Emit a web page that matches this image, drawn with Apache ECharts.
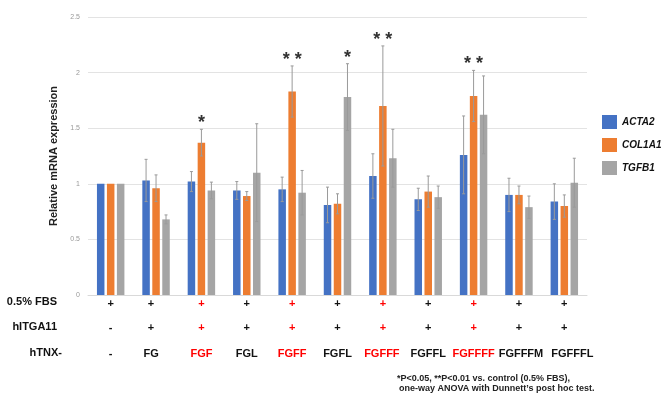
<!DOCTYPE html>
<html><head><meta charset="utf-8">
<script src="https://cdn.jsdelivr.net/npm/echarts@6/dist/echarts.min.js"></script>
<style>html,body{margin:0;padding:0;background:#fff}#c{width:664px;height:394px}</style>
</head><body><div id="c"></div>
<script>
var categories = ['-', 'FG', 'FGF', 'FGL', 'FGFF', 'FGFL', 'FGFFF', 'FGFFL', 'FGFFFF', 'FGFFFM', 'FGFFFL'];
var fbsRow   = ['+', '+', '+', '+', '+', '+', '+', '+', '+', '+', '+'];
var itgaRow  = ['-', '+', '+', '+', '+', '+', '+', '+', '+', '+', '+'];
var redColumns = [false, false, true, false, true, false, true, false, true, false, false];
var yTicks = [0, 0.5, 1, 1.5, 2, 2.5];

var acta2Mean  = [1.00, 1.03, 1.02, 0.94, 0.95, 0.81, 1.07, 0.86, 1.26, 0.90, 0.84];
var acta2Sd    = [0,    0.19, 0.09, 0.08, 0.11, 0.16, 0.20, 0.10, 0.35, 0.15, 0.16];
var col1a1Mean = [1.00, 0.96, 1.37, 0.89, 1.83, 0.82, 1.70, 0.93, 1.79, 0.90, 0.80];
var col1a1Sd   = [0,    0.12, 0.12, 0.04, 0.23, 0.09, 0.54, 0.14, 0.23, 0.08, 0.10];
var tgfb1Mean  = [1.00, 0.68, 0.94, 1.10, 0.92, 1.78, 1.23, 0.88, 1.62, 0.79, 1.01];
var tgfb1Sd    = [0,    0.04, 0.075,0.44, 0.20, 0.30, 0.26, 0.10, 0.35, 0.10, 0.22];
var acta2Sig   = ['', '', '', '', '', '', '', '', '', '', ''];
var col1a1Sig  = ['', '', '*', '', '**', '', '**', '', '**', '', ''];
var tgfb1Sig   = ['', '', '', '', '', '*', '', '', '', '', ''];

var seriesNames = ['ACTA2', 'COL1A1', 'TGFB1'];
var colors = ['#4472C4', '#ED7D31', '#A5A5A5'];
var FONT = '"Liberation Sans", Arial, sans-serif';

// small horizontal nudges of the table labels (style only)
var rowShift = [0, -5, 0, 0, 0, 0, 0, 0, 0, 0, 0];
var tnxShift = [0, -5, 0, 0, 0, 0, -1, 0, 0, 2, 8];

var chart = echarts.init(document.getElementById('c'), null, {renderer: 'canvas'});

var BW = 7.5, GAP = 0.33;
function errSeries(idx, means, sds, sigs) {
  var data = means.map(function (m, i) { return [i, m, sds[i], sigs[i]]; });
  return {
    type: 'custom',
    name: seriesNames[idx] + '_err',
    xAxisIndex: 0, yAxisIndex: 0,
    z: 5,
    silent: true,
    data: data,
    encode: {x: 0, y: 1},
    renderItem: function (params, api) {
      var i = api.value(0), m = api.value(1), sd = api.value(2);
      var sig = data[params.dataIndex][3];
      var center = api.coord([i, m]);
      var off = (idx - 1) * BW * (1 + GAP);
      var x = center[0] + off;
      var children = [];
      var top = api.coord([i, m + sd])[1];
      if (sd > 0) {
        var bot = api.coord([i, m - sd])[1];
        var st = {stroke: '#9a9a9a', lineWidth: 1};
        children.push({type: 'line', shape: {x1: x, y1: top, x2: x, y2: bot}, style: st});
        children.push({type: 'line', shape: {x1: x - 1.5, y1: top, x2: x + 1.5, y2: top}, style: st});
        children.push({type: 'line', shape: {x1: x - 1.5, y1: bot, x2: x + 1.5, y2: bot}, style: st});
      }
      if (sig) {
        children.push({type: 'text', style: {
          text: sig.split('').join(' '), x: x, y: top - 6,
          textAlign: 'center', textVerticalAlign: 'middle',
          font: 'bold 18px ' + FONT, fill: '#333'
        }});
      }
      return {type: 'group', children: children};
    }
  };
}

function barSeries(idx, vals) {
  return {
    type: 'bar', name: seriesNames[idx], data: vals,
    barWidth: BW, barGap: (GAP * 100) + '%',
    itemStyle: {color: colors[idx]}, z: 2
  };
}

function makeRich(shifts) {
  var rich = {};
  shifts.forEach(function (s, i) {
    rich['c' + i] = {
      color: redColumns[i] ? '#FF0000' : '#111',
      fontFamily: FONT, fontWeight: 'bold', fontSize: 11,
      padding: s >= 0 ? [0, 0, 0, 2 * s] : [0, -2 * s, 0, 0]
    };
  });
  return rich;
}
function labelFmt(value, index) { return '{c' + index + '|' + value + '}'; }

function rowAxis(data, offset, shifts, margin, line) {
  return {
    type: 'category', data: data, position: 'bottom', offset: offset, gridIndex: 0,
    axisLine: line ? {lineStyle: {color: '#d9d9d9'}} : {show: false},
    axisTick: {show: false}, splitLine: {show: false},
    axisLabel: {interval: 0, margin: margin, formatter: labelFmt, rich: makeRich(shifts)}
  };
}

chart.setOption({
  animation: false,
  backgroundColor: '#fff',
  grid: {left: 88, right: 77, top: 17, bottom: 99},
  legend: {
    orient: 'vertical', left: 597, top: 110, itemWidth: 15, itemHeight: 14, itemGap: 9,
    icon: 'rect', data: seriesNames,
    textStyle: {fontFamily: FONT, fontWeight: 'bold', fontStyle: 'italic', fontSize: 10, color: '#111'}
  },
  xAxis: [
    rowAxis(fbsRow, 0, rowShift, 3, true),
    rowAxis(itgaRow, 25, rowShift, 2, false),
    rowAxis(categories, 51, tnxShift, 2, false)
  ],
  yAxis: {
    type: 'value', min: yTicks[0], max: yTicks[yTicks.length - 1], interval: 0.5,
    name: 'Relative mRNA expression', nameLocation: 'middle', nameGap: 27, nameRotate: 90,
    nameTextStyle: {fontFamily: FONT, fontWeight: 'bold', fontSize: 11, color: '#222'},
    axisLine: {show: false}, axisTick: {show: false},
    axisLabel: {fontFamily: FONT, fontSize: 7, color: '#999', margin: 8},
    splitLine: {lineStyle: {color: '#e3e3e3'}}
  },
  graphic: [
    {type: 'text', right: 664 - 57, top: 296, style: {text: '0.5% FBS', font: 'bold 11px ' + FONT, fill: '#111', textAlign: 'right'}},
    {type: 'text', right: 664 - 57, top: 321, style: {text: 'hITGA11', font: 'bold 11px ' + FONT, fill: '#111', textAlign: 'right'}},
    {type: 'text', right: 664 - 62, top: 347, style: {text: 'hTNX-', font: 'bold 11px ' + FONT, fill: '#111', textAlign: 'right'}},
    {type: 'text', left: 397, top: 374, style: {text: '*P<0.05, **P<0.01 vs. control (0.5% FBS),', font: 'bold 9px ' + FONT, fill: '#222'}},
    {type: 'text', left: 399, top: 384, style: {text: 'one-way ANOVA with Dunnett\u2019s post hoc test.', font: 'bold 9px ' + FONT, fill: '#222'}}
  ],
  series: [
    barSeries(0, acta2Mean), barSeries(1, col1a1Mean), barSeries(2, tgfb1Mean),
    errSeries(0, acta2Mean, acta2Sd, acta2Sig),
    errSeries(1, col1a1Mean, col1a1Sd, col1a1Sig),
    errSeries(2, tgfb1Mean, tgfb1Sd, tgfb1Sig)
  ]
});
</script></body></html>
